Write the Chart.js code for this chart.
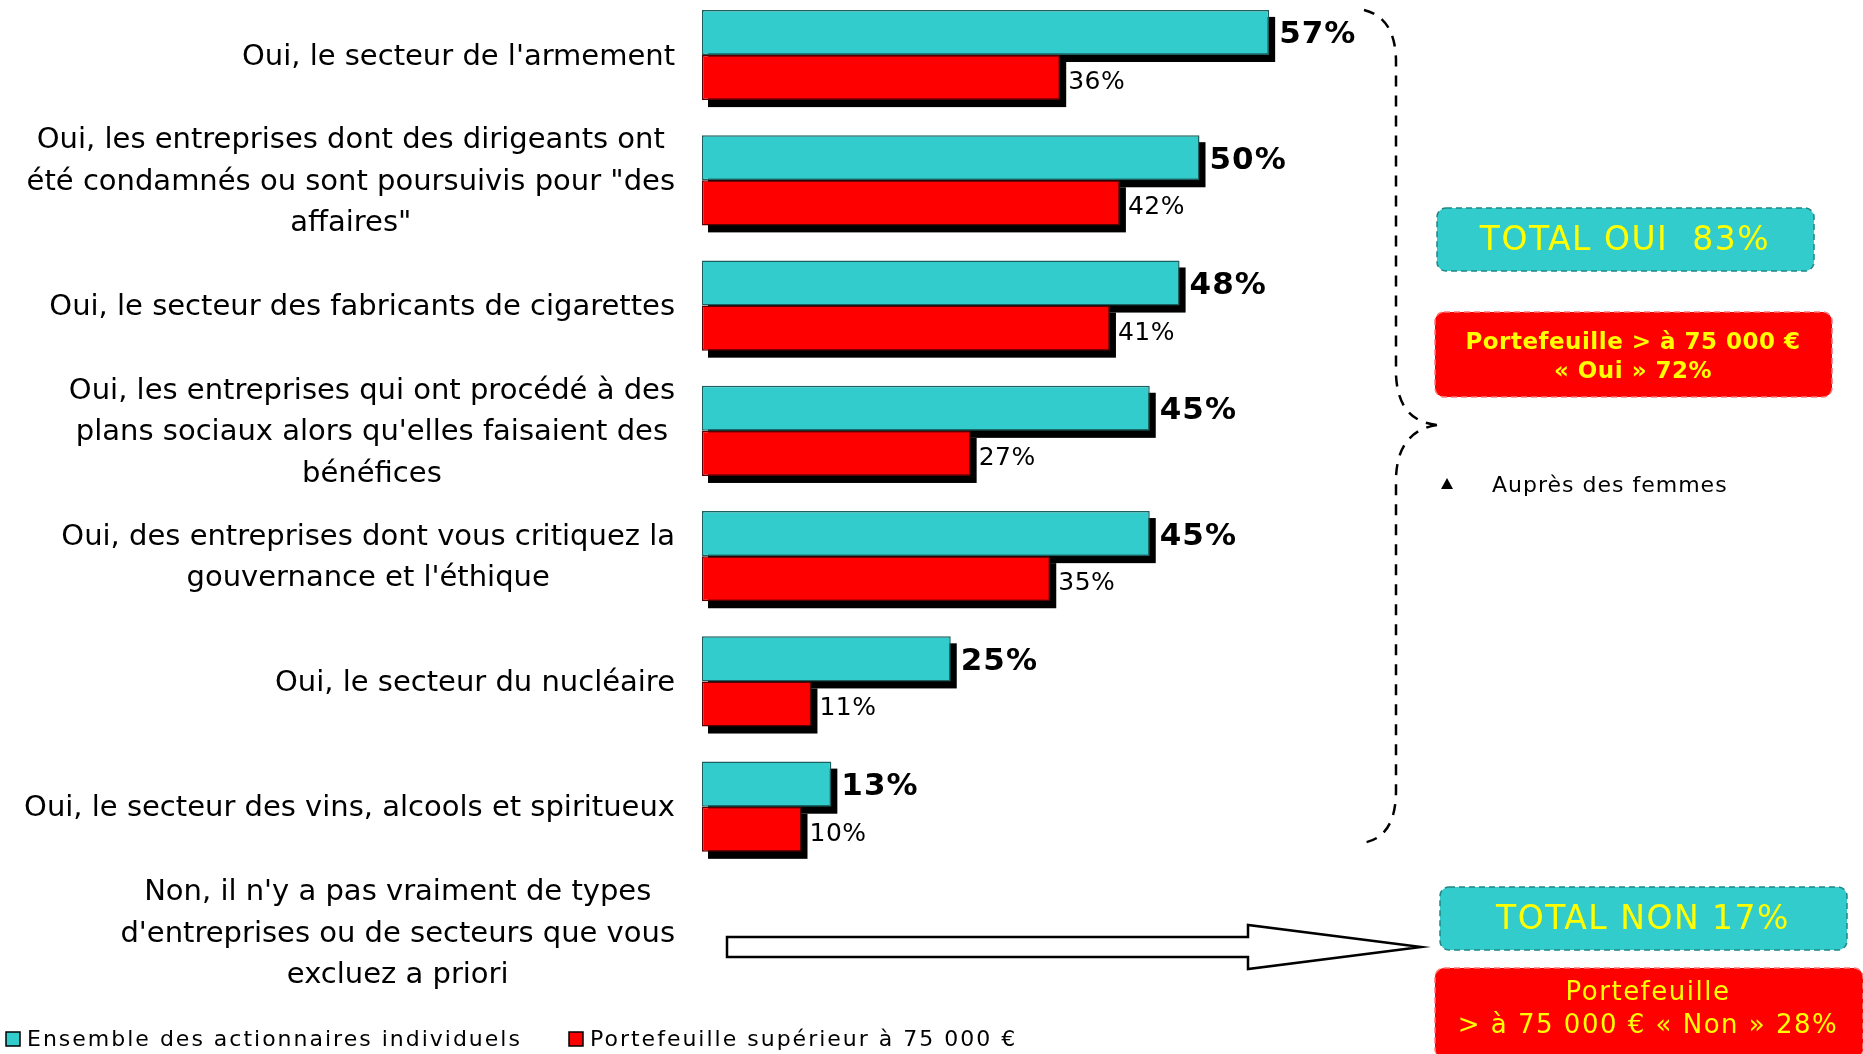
<!DOCTYPE html>
<html>
<head>
<meta charset="utf-8">
<script src="https://cdn.jsdelivr.net/npm/chart.js@4.4.1/dist/chart.umd.min.js"></script>
<style>
  html, body { margin: 0; padding: 0; background: #fff; }
  canvas { display: block; }
</style>
</head>
<body>
<canvas id="chart" width="1863" height="1054"></canvas>
<script>
// categories (last one has no bar, only the arrow to the totals)
const categories = [
    ["Oui, le secteur de l'armement"],
    ["Oui, les entreprises dont des dirigeants ont", "été condamnés ou sont poursuivis pour \"des", "affaires\""],
    ["Oui, le secteur des fabricants de cigarettes"],
    ["Oui, les entreprises qui ont procédé à des", "plans sociaux alors qu'elles faisaient des", "bénéfices"],
    ["Oui, des entreprises dont vous critiquez la", "gouvernance et l'éthique"],
    ["Oui, le secteur du nucléaire"],
    ["Oui, le secteur des vins, alcools et spiritueux"],
    ["Non, il n'y a pas vraiment de types", "d'entreprises ou de secteurs que vous", "excluez a priori"]
];
const seriesNames = ['Ensemble des actionnaires individuels', 'Portefeuille supérieur à 75 000 €'];
const ensemble = [57, 50, 48, 45, 45, 25, 13];
const portefeuille = [36, 42, 41, 27, 35, 11, 10];

const totalOui = 83;
const totalNon = 17;
const portOui = 72;
const portNon = 28;

const TEAL = '#33CCCC';
const RED = '#FF0000';
const YELLOW = '#FFFF00';
const FONT = '"DejaVu Sans"';

Chart.defaults.font.family = FONT;

function box(ctx, x, y, w, h, fill, stroke) {
    ctx.save();
    ctx.beginPath();
    ctx.roundRect(x, y, w, h, 9);
    ctx.fillStyle = fill;
    ctx.fill();
    ctx.setLineDash([6, 4]);
    ctx.lineWidth = 1.5;
    ctx.strokeStyle = stroke;
    ctx.stroke();
    ctx.restore();
}

function centeredText(ctx, lines, cx, cy, font, lineH, spacing) {
    ctx.save();
    ctx.font = font;
    ctx.letterSpacing = spacing + 'px';
    ctx.fillStyle = YELLOW;
    ctx.textAlign = 'center';
    ctx.textBaseline = 'middle';
    lines.forEach((t, k) => {
        ctx.fillText(t, cx, cy + (k - (lines.length - 1) / 2) * lineH);
    });
    ctx.restore();
}

const decor = {
    id: 'decor',
    // hard black drop shadows, all drawn before the bars so red covers the teal shadow
    beforeDatasetsDraw(chart) {
        const ctx = chart.ctx;
        ctx.save();
        ctx.fillStyle = '#000';
        chart.data.datasets.forEach((ds, i) => {
            chart.getDatasetMeta(i).data.forEach((bar, j) => {
                if (ds.data[j] == null) return;
                const p = bar.getProps(['x', 'y', 'base', 'height'], true);
                ctx.fillRect(p.base + 6, p.y - p.height / 2 + 7, p.x - p.base, p.height);
            });
        });
        ctx.restore();
    },
    afterDatasetsDraw(chart) {
        const ctx = chart.ctx;
        ctx.save();
        ctx.fillStyle = '#000';
        ctx.textAlign = 'left';
        ctx.textBaseline = 'middle';
        chart.data.datasets.forEach((ds, i) => {
            const meta = chart.getDatasetMeta(i);
            meta.data.forEach((bar, j) => {
                const v = ds.data[j];
                if (v == null) return;
                if (i === 0) {
                    ctx.font = 'bold 31px ' + FONT;
                    ctx.letterSpacing = '1px';
                    ctx.fillText(v + '%', bar.x + 10, bar.y + 3);
                } else {
                    ctx.font = '25px ' + FONT;
                    ctx.letterSpacing = '0.5px';
                    ctx.fillText(v + '%', bar.x + 8, bar.y + 5);
                }
            });
        });
        ctx.restore();
    },
    afterDraw(chart) {
        const ctx = chart.ctx;
        const area = chart.chartArea;
        const yScale = chart.scales.y;

        // category labels: block right aligned, lines centred inside the block
        ctx.save();
        ctx.font = '29px ' + FONT;
        ctx.fillStyle = '#000';
        ctx.textAlign = 'center';
        ctx.textBaseline = 'middle';
        const right = area.left - 27;
        const lineH = 41.6;
        categories.forEach((lines, i) => {
            const yc = yScale.getPixelForValue(i) + 2;
            const w = Math.max(...lines.map(t => ctx.measureText(t).width));
            const cx = right - w / 2;
            lines.forEach((t, k) => {
                ctx.fillText(t, cx, yc + (k - (lines.length - 1) / 2) * lineH);
            });
        });
        ctx.restore();

        // legend
        ctx.save();
        ctx.font = '22px ' + FONT;
        ctx.letterSpacing = '2px';
        ctx.textBaseline = 'middle';
        const legendX = [6, 569];
        [TEAL, RED].forEach((c, i) => {
            ctx.fillStyle = c;
            ctx.fillRect(legendX[i], 1032, 14, 14);
            ctx.lineWidth = 1.5;
            ctx.strokeStyle = '#000';
            ctx.strokeRect(legendX[i], 1032, 14, 14);
            ctx.fillStyle = '#000';
            ctx.fillText(seriesNames[i], legendX[i] + 21, 1040);
        });
        ctx.restore();

        // dashed brace around the "Oui" answers
        const bx = 1396;
        const tip = 1437;
        const top = yScale.getPixelForValue(0) - 45;
        const bottom = yScale.getPixelForValue(6) + 36;
        const mid = 425;
        ctx.save();
        ctx.setLineDash([11, 9]);
        ctx.lineWidth = 2.5;
        ctx.strokeStyle = '#000';
        ctx.beginPath();
        ctx.moveTo(bx - 32, top);
        ctx.quadraticCurveTo(bx, top + 8, bx, top + 52);
        ctx.lineTo(bx, mid - 50);
        ctx.quadraticCurveTo(bx + 2, mid - 4, tip, mid);
        ctx.moveTo(tip, mid);
        ctx.quadraticCurveTo(bx + 2, mid + 6, bx, mid + 52);
        ctx.lineTo(bx, bottom - 52);
        ctx.quadraticCurveTo(bx, bottom - 6, bx - 32, bottom);
        ctx.stroke();
        ctx.restore();

        // block arrow from the "Non" answer
        const ay = yScale.getPixelForValue(7) + 15;
        ctx.save();
        ctx.beginPath();
        ctx.moveTo(area.left + 25, ay - 10);
        ctx.lineTo(1248, ay - 10);
        ctx.lineTo(1248, ay - 22);
        ctx.lineTo(1421, ay);
        ctx.lineTo(1248, ay + 22);
        ctx.lineTo(1248, ay + 10);
        ctx.lineTo(area.left + 25, ay + 10);
        ctx.closePath();
        ctx.fillStyle = '#fff';
        ctx.fill();
        ctx.lineWidth = 2.5;
        ctx.strokeStyle = '#000';
        ctx.stroke();
        ctx.restore();

        // total boxes
        box(ctx, 1437, 208, 377, 63, TEAL, '#218585');
        centeredText(ctx, ['TOTAL OUI  ' + totalOui + '%'], 1625, 241, '33px ' + FONT, 0, 1.5);

        box(ctx, 1435, 312, 397, 85, RED, '#ff7a7a');
        centeredText(ctx, ['Portefeuille > à 75 000 €', '« Oui » ' + portOui + '%'], 1633, 358, 'bold 23px ' + FONT, 29, 0.5);

        box(ctx, 1440, 887, 407, 63, TEAL, '#218585');
        centeredText(ctx, ['TOTAL NON ' + totalNon + '%'], 1643, 920, '33px ' + FONT, 0, 1.5);

        box(ctx, 1435, 968, 428, 90, RED, '#ff7a7a');
        centeredText(ctx, ['Portefeuille', '> à 75 000 € « Non » ' + portNon + '%'], 1648, 1010, '26px ' + FONT, 33, 1.5);

        // note
        ctx.save();
        ctx.fillStyle = '#000';
        ctx.beginPath();
        ctx.moveTo(1447, 478);
        ctx.lineTo(1453, 489);
        ctx.lineTo(1441, 489);
        ctx.closePath();
        ctx.fill();
        ctx.font = '22px ' + FONT;
        ctx.letterSpacing = '1px';
        ctx.textBaseline = 'middle';
        ctx.fillText('Auprès des femmes', 1492, 486);
        ctx.restore();
    }
};

const ctx = document.getElementById('chart').getContext('2d');
const chart = new Chart(ctx, {
    type: 'bar',
    data: {
        labels: categories,
        datasets: [
            {
                label: seriesNames[0],
                data: ensemble,
                backgroundColor: TEAL,
                borderColor: '#1d5f5f',
                borderWidth: 1.5,
                borderSkipped: false,
                clip: false
            },
            {
                label: seriesNames[1],
                data: portefeuille,
                backgroundColor: RED,
                borderColor: '#5a0000',
                borderWidth: 1.5,
                borderSkipped: false,
                clip: false
            }
        ]
    },
    options: {
        indexAxis: 'y',
        responsive: false,
        animation: false,
        devicePixelRatio: 1,
        categoryPercentage: 0.72,
        barPercentage: 1,
        layout: {
            padding: { left: 702, right: 166, top: 55, bottom: 122 }
        },
        scales: {
            x: { display: false, min: 0, max: 100 },
            y: { display: false, offset: false, grid: { display: false } }
        },
        plugins: {
            legend: { display: false },
            tooltip: { enabled: false }
        }
    },
    plugins: [decor]
});
</script>
</body>
</html>
